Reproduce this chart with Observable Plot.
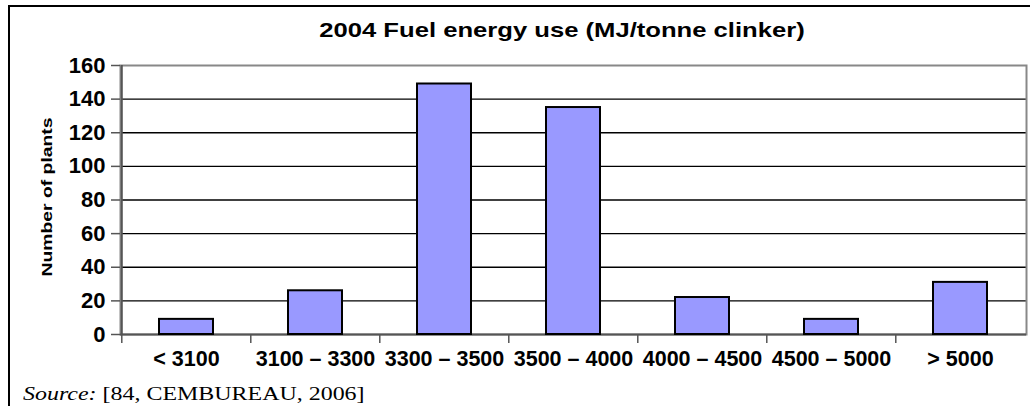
<!DOCTYPE html>
<html>
<head>
<meta charset="utf-8">
<script src="https://cdn.jsdelivr.net/npm/d3@7"></script>
<script src="https://cdn.jsdelivr.net/npm/@observablehq/plot@0.6"></script>
<style>
  html, body { margin: 0; padding: 0; background: #fff; overflow: hidden; }
  #wrap { position: relative; width: 1030px; height: 406px; overflow: hidden; }
  #border { position: absolute; left: 8px; top: 5px; width: 1100px; height: 500px; border: 2px solid #000; }
  #chart { position: absolute; left: 0; top: 0; }
  #title { position: absolute; top: 19px; left: 562px; transform: translateX(-50%) scaleX(1.22); white-space: nowrap;
           font: bold 21px "Liberation Sans", Arial, sans-serif; line-height: 1; color: #000; }
  #ytitle { position: absolute; left: 46px; top: 197px; white-space: nowrap;
            transform: translate(-50%, -50%) rotate(-90deg) scaleX(1.29);
            font: bold 15px "Liberation Sans", Arial, sans-serif; line-height: 1; color: #000; }
  #source { position: absolute; left: 23px; top: 384px; white-space: nowrap; transform-origin: 0 50%;
            transform: scaleX(1.26);
            font: 19px "Liberation Serif", "Times New Roman", serif; line-height: 1; color: #000; }
</style>
</head>
<body>
<div id="wrap">
  <div id="border"></div>
  <div id="chart"></div>
  <div id="title">2004 Fuel energy use (MJ/tonne clinker)</div>
  <div id="ytitle">Number of plants</div>
  <div id="source"><i>Source:</i> [84, CEMBUREAU, 2006]</div>
</div>
<script>
const categories = ["< 3100", "3100 \u2013 3300", "3300 \u2013 3500", "3500 \u2013 4000", "4000 \u2013 4500", "4500 \u2013 5000", "> 5000"];
const plants = [9, 26, 149, 135, 22, 9, 31];
const yTicks = [0, 20, 40, 60, 80, 100, 120, 140, 160];

const data = categories.map((c, i) => ({category: c, plants: plants[i]}));

const W = 1030, H = 406, ML = 120, MR = 4, MT = 65, MB = 72;
const step = (W - ML - MR) / categories.length;
const font = '"Liberation Sans", Arial, sans-serif';

const chart = Plot.plot({
  width: W,
  height: H,
  marginLeft: ML,
  marginRight: MR,
  marginTop: MT,
  marginBottom: MB,
  style: {fontFamily: font, background: "transparent", overflow: "visible"},
  x: {domain: categories, paddingInner: 0.58, paddingOuter: 0.29, label: null},
  y: {domain: [0, 160], label: null},
  marks: [
    Plot.ruleY(yTicks.filter(d => d > 0 && d < 160), {stroke: "#000", strokeWidth: 1.3}),
    Plot.frame({stroke: "#888", strokeWidth: 2}),
    Plot.ruleY([0], {stroke: "#555", strokeWidth: 2}),
    Plot.ruleX([0], {x: () => categories[0], dx: -step / 2, stroke: "#555", strokeWidth: 2}),
    Plot.barY(data, {x: "category", y: "plants", fill: "#9999FF", stroke: "#000", strokeWidth: 2}),
    Plot.axisY({
      ticks: yTicks, tickSize: 9, tickPadding: 6, stroke: "#555", strokeWidth: 1.5,
      fontSize: 22, fontWeight: "bold", fill: "#000", label: null
    }),
    Plot.axisX({
      ticks: categories, tickSize: 9, tickFormat: () => "", dx: -step / 2,
      stroke: "#555", strokeWidth: 1.5, label: null
    }),
    Plot.axisX({
      tickSize: 0, tickPadding: 16, fontSize: 21.5, fontWeight: "bold", fill: "#000", label: null
    })
  ]
});
document.getElementById("chart").appendChild(chart);
</script>
</body>
</html>
